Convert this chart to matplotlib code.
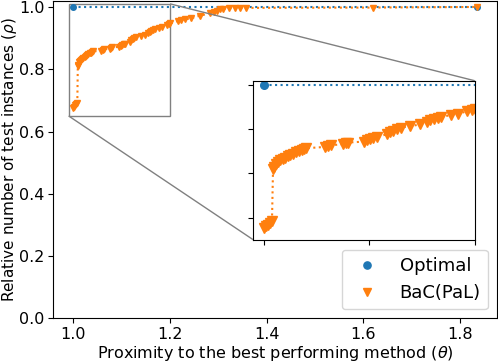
import numpy as np
import matplotlib
matplotlib.use("Agg")
import matplotlib.pyplot as plt
from mpl_toolkits.axes_grid1.inset_locator import mark_inset

# performance profile data
theta_opt = [1.0, 1.835]
rho_opt = [1.0, 1.0]

theta_bac = [1.000, 1.002, 1.004, 1.006, 1.008,
             1.009, 1.010, 1.012, 1.014, 1.016, 1.018, 1.020, 1.023, 1.025, 1.028,
             1.031, 1.034, 1.036, 1.038, 1.040,
             1.058, 1.061, 1.064, 1.075, 1.078, 1.080, 1.095, 1.098, 1.101, 1.104, 1.107,
             1.117, 1.120, 1.123, 1.126, 1.130, 1.139, 1.148, 1.155, 1.158, 1.161,
             1.165, 1.168, 1.177, 1.184, 1.193, 1.197, 1.200,
             1.217, 1.222, 1.230, 1.244, 1.262, 1.283, 1.290, 1.297, 1.304, 1.310,
             1.323, 1.335, 1.345, 1.357, 1.620, 1.835]
rho_bac = [0.676, 0.680, 0.684, 0.688, 0.692,
           0.811, 0.815, 0.822, 0.826, 0.830, 0.833, 0.836, 0.840, 0.842, 0.845,
           0.848, 0.851, 0.853, 0.855, 0.857,
           0.860, 0.862, 0.864, 0.866, 0.868, 0.870, 0.872, 0.875, 0.878, 0.880, 0.882,
           0.889, 0.893, 0.897, 0.900, 0.904, 0.907, 0.911, 0.917, 0.920, 0.923,
           0.925, 0.928, 0.932, 0.935, 0.941, 0.944, 0.947,
           0.955, 0.958, 0.960, 0.964, 0.972, 0.980, 0.984, 0.988, 0.992, 0.995,
           0.996, 0.997, 0.997, 0.997, 0.998, 1.000]

fig, ax = plt.subplots(figsize=(4.98, 3.63), dpi=100)
fig.subplots_adjust(left=0.107, right=0.998, bottom=0.123, top=0.998)

ax.plot(theta_opt, rho_opt, ':', color='C0')
ax.plot(theta_opt, rho_opt, 'o', color='C0', ms=4, label='Optimal')
ax.plot(theta_bac, rho_bac, ':', color='C1')
ax.plot(theta_bac, rho_bac, 'v', color='C1', ms=4.5, label='BaC(PaL)')

ax.set_ylim(0, 1.02)
ax.set_xticks([1.0, 1.2, 1.4, 1.6, 1.8])
ax.tick_params(labelsize=11.5, pad=3)
ax.set_xlabel(r'Proximity to the best performing method ($\theta$)', fontsize=11.5, labelpad=1)
ax.set_ylabel(r'Relative number of test instances ($\rho$)', fontsize=11)
ax.yaxis.set_label_coords(-0.078, 0.5)
ax.legend(loc='lower right', fontsize=13, markerscale=1.3)

# zoomed inset
axins = ax.inset_axes([0.45, 0.248, 0.5, 0.5])
axins.plot(theta_opt, rho_opt, ':', color='C0')
axins.plot(theta_opt, rho_opt, 'o', color='C0', ms=5.5)
axins.plot(theta_bac, rho_bac, ':', color='C1')
axins.plot(theta_bac, rho_bac, 'v', color='C1', ms=6.5)
axins.set_xlim(0.99, 1.2)
axins.set_ylim(0.65, 1.01)
axins.set_xticks([1.0, 1.1, 1.2])
axins.set_yticks([0.7, 0.8, 0.9, 1.0])
axins.set_xticklabels([])
axins.set_yticklabels([])
mark_inset(ax, axins, loc1=1, loc2=3, fc='none', ec='0.5')

plt.savefig('out.png', dpi=100)
